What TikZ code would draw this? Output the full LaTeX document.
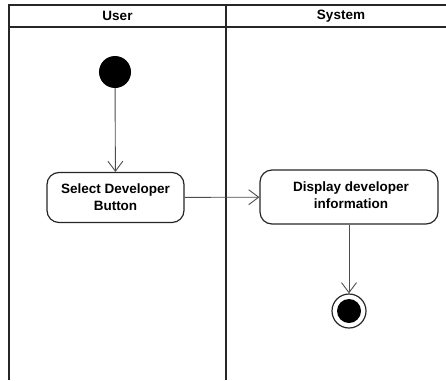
\documentclass[tikz,border=0pt]{standalone}
\usepackage{fontspec}
\setmainfont{Liberation Sans}
\usetikzlibrary{arrows.meta}
\begin{document}
\begin{tikzpicture}[x=1pt,y=-1pt,
  lane/.style={line width=2pt,draw=black!85},
  action/.style={draw=black!85,line width=1.2pt,rounded corners=12pt,align=center,
    font=\fontsize{13.5}{17}\selectfont\bfseries,inner sep=0pt},
  flow/.style={draw=black!70,line width=0.9pt,-{Straight Barb[length=10pt,width=15pt,line width=0.9pt]}},
  title/.style={font=\fontsize{13.5}{16}\selectfont\bfseries}]
  \useasboundingbox (0,0) rectangle (446,380);
  % swimlane frame
  \draw[lane] (9,380) -- (9,5) -- (446,5);
  \draw[lane] (9,27) -- (446,27);
  \draw[lane] (226,5) -- (226,380);
  \node[title] (hUser) at (117.5,16) {User};
  \node[title] (hSys) at (341,16) {System};
  % start node
  \node[circle,fill=black,minimum size=32pt,inner sep=0pt] (start) at (115,72) {};
  % actions
  \node[action,minimum width=137pt,minimum height=50pt] (select) at (115.5,197.5) {Select Developer\\Button};
  \node[action,minimum width=178pt,minimum height=54pt] (display) at (349,197) {};
  \node[font=\fontsize{13.5}{17}\selectfont\bfseries,align=center,inner sep=0pt] (displaytxt) at (351,195) {Display developer\\information};
  % final node
  \node[circle,draw=black!85,line width=1.2pt,minimum size=34pt,inner sep=0pt] (final) at (349,311) {};
  \node[circle,fill=black,minimum size=24pt,inner sep=0pt] (finalin) at (final) {};
  % flows
  \draw[flow] (start) -- (select);
  \draw[flow] (select) -- (display);
  \draw[flow] (display) -- (final);
\end{tikzpicture}
\end{document}
